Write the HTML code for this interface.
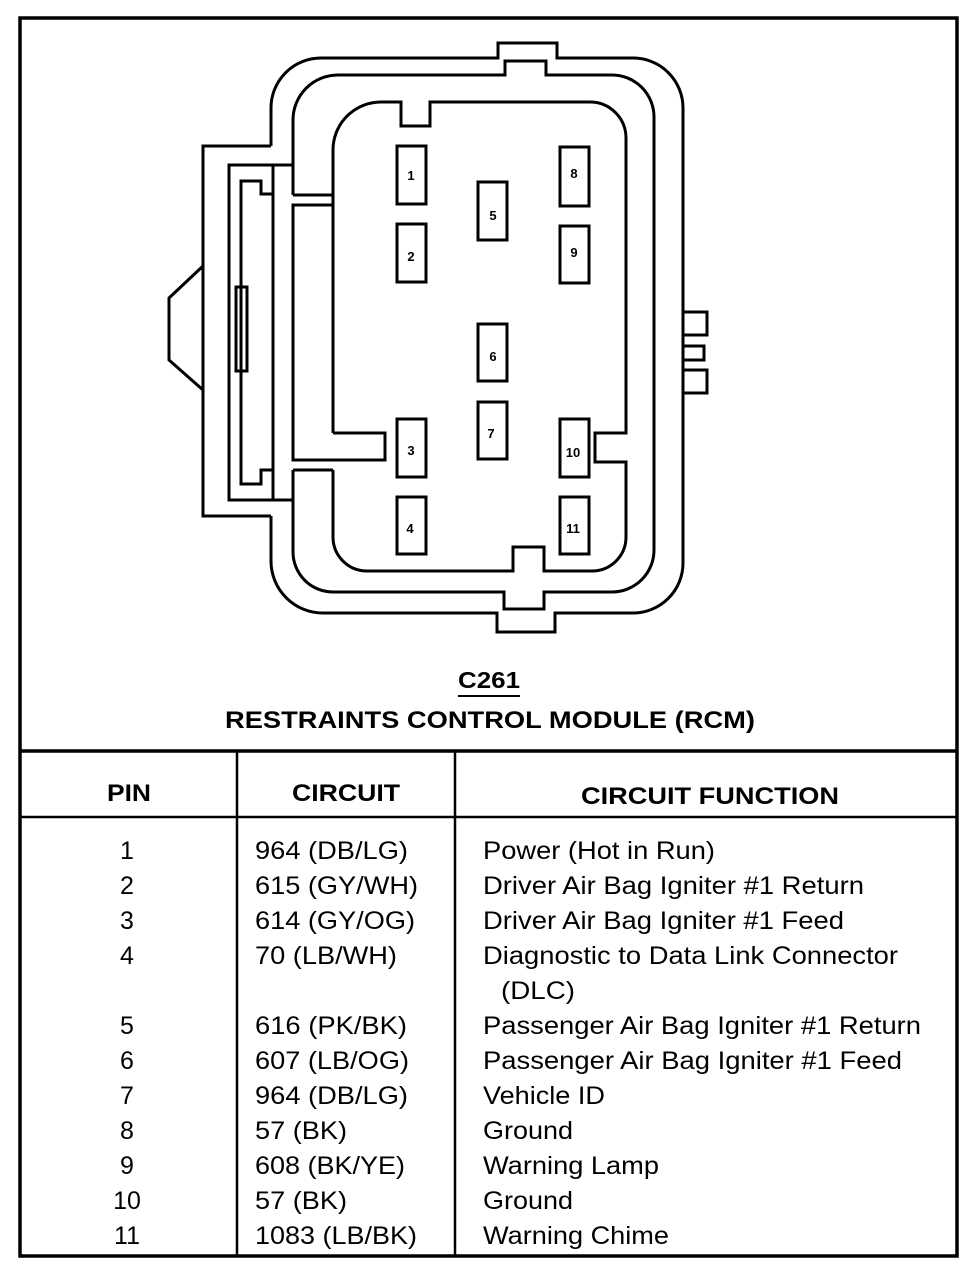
<!DOCTYPE html>
<html><head><meta charset="utf-8"><style>
html,body{margin:0;padding:0;background:#fff;}
svg{display:block;}
text{font-family:"Liberation Sans",Arial,sans-serif;fill:#000;}
</style></head><body>
<svg width="976" height="1280" viewBox="0 0 976 1280" xmlns="http://www.w3.org/2000/svg">
<g fill="none" stroke="#000" stroke-width="3" stroke-linejoin="miter">
<rect x="20" y="18" width="937" height="1238" stroke-width="3.5"/>
<line x1="20" y1="751" x2="957" y2="751" stroke-width="3.5"/>
<line x1="20" y1="817" x2="957" y2="817" stroke-width="2.5"/>
<line x1="237" y1="751" x2="237" y2="1256" stroke-width="2.5"/>
<line x1="455" y1="751" x2="455" y2="1256" stroke-width="2.5"/>

<path d="M271,146 L271,108 A50,50 0 0 1 321,58 L498,58 L498,43 L557,43 L557,58 L633,58 A50,50 0 0 1 683,108 L683,563 A50,50 0 0 1 633,613 L555,613 L555,632 L497,632 L497,613 L323,613 A52,52 0 0 1 271,561 L271,516"/>
<path d="M293,195 L293,120 A45,45 0 0 1 338,75 L505,75 L505,61 L546,61 L546,75 L612,75 A42,42 0 0 1 654,117 L654,550 A42,42 0 0 1 612,592 L544,592 L544,609 L504,609 L504,592 L333,592 A40,40 0 0 1 293,552 L293,470"/>
<path d="M333,433 L333,150 A48,48 0 0 1 381,102 L401,102 L401,126 L430,126 L430,102 L590,102 A36,36 0 0 1 626,138 L626,433 L595,433 L595,462 L626,462 L626,537 A34,34 0 0 1 592,571 L544,571 L544,547 L513,547 L513,571 L367,571 A34,34 0 0 1 333,537 L333,470"/>
<path d="M333,433 L385,433 L385,460 L293,460 L293,205 L333,205"/>
<line x1="293" y1="195" x2="333" y2="195"/>
<line x1="293" y1="470" x2="333" y2="470"/>
<path d="M271,146 L203,146 L203,516 L271,516"/>
<path d="M293,165 L229,165 L229,500 L293,500"/>
<line x1="273" y1="165" x2="273" y2="500"/>
<path d="M273,194 L261,194 L261,181 L241,181 L241,484 L261,484 L261,470 L273,470"/>
<rect x="236" y="287" width="11" height="84"/>
<path d="M203,266 L169,298 L169,360 L203,390"/>
<path d="M683,312 L707,312 L707,335 L683,335"/>
<path d="M683,346 L704,346 L704,360 L683,360"/>
<path d="M683,370 L707,370 L707,393 L683,393"/>
<rect x="397" y="146" width="29" height="58"/>
<rect x="397" y="224" width="29" height="58"/>
<rect x="397" y="419" width="29" height="58"/>
<rect x="397" y="497" width="29" height="57"/>
<rect x="478" y="182" width="29" height="58"/>
<rect x="478" y="324" width="29" height="57"/>
<rect x="478" y="402" width="29" height="57"/>
<rect x="560" y="147" width="29" height="59"/>
<rect x="560" y="226" width="29" height="57"/>
<rect x="560" y="419" width="29" height="58"/>
<rect x="560" y="497" width="29" height="57"/>
<line x1="458" y1="696" x2="520" y2="696" stroke-width="2"/>
</g>
<g font-size="13" font-weight="bold" text-anchor="middle">
<text x="411" y="180">1</text>
<text x="411" y="261">2</text>
<text x="411" y="455">3</text>
<text x="410" y="533">4</text>
<text x="493" y="220">5</text>
<text x="493" y="361">6</text>
<text x="491" y="438">7</text>
<text x="574" y="178">8</text>
<text x="574" y="257">9</text>
<text x="573" y="457">10</text>
<text x="573" y="533">11</text>
</g>
<text x="458" y="688" font-size="23" font-weight="bold" textLength="62" lengthAdjust="spacingAndGlyphs">C261</text>
<text x="225" y="728" font-size="24" font-weight="bold" textLength="530" lengthAdjust="spacingAndGlyphs">RESTRAINTS CONTROL MODULE (RCM)</text>
<g font-size="24" font-weight="bold">
<text x="107" y="801" textLength="44" lengthAdjust="spacingAndGlyphs">PIN</text>
<text x="292" y="801" textLength="108" lengthAdjust="spacingAndGlyphs">CIRCUIT</text>
<text x="581" y="804" textLength="258" lengthAdjust="spacingAndGlyphs">CIRCUIT FUNCTION</text>
</g>
<g font-size="25">
<g text-anchor="middle">
<text x="127" y="859">1</text><text x="127" y="894">2</text><text x="127" y="929">3</text><text x="127" y="964">4</text>
<text x="127" y="1034">5</text><text x="127" y="1069">6</text><text x="127" y="1104">7</text><text x="127" y="1139">8</text>
<text x="127" y="1174">9</text><text x="127" y="1209">10</text><text x="127" y="1244">11</text>
</g>
<g lengthAdjust="spacingAndGlyphs">
<text x="255" y="859" textLength="153" lengthAdjust="spacingAndGlyphs">964 (DB/LG)</text>
<text x="255" y="894" textLength="163" lengthAdjust="spacingAndGlyphs">615 (GY/WH)</text>
<text x="255" y="929" textLength="160" lengthAdjust="spacingAndGlyphs">614 (GY/OG)</text>
<text x="255" y="964" textLength="142" lengthAdjust="spacingAndGlyphs">70 (LB/WH)</text>
<text x="255" y="1034" textLength="152" lengthAdjust="spacingAndGlyphs">616 (PK/BK)</text>
<text x="255" y="1069" textLength="154" lengthAdjust="spacingAndGlyphs">607 (LB/OG)</text>
<text x="255" y="1104" textLength="153" lengthAdjust="spacingAndGlyphs">964 (DB/LG)</text>
<text x="255" y="1139" textLength="92" lengthAdjust="spacingAndGlyphs">57 (BK)</text>
<text x="255" y="1174" textLength="150" lengthAdjust="spacingAndGlyphs">608 (BK/YE)</text>
<text x="255" y="1209" textLength="92" lengthAdjust="spacingAndGlyphs">57 (BK)</text>
<text x="255" y="1244" textLength="162" lengthAdjust="spacingAndGlyphs">1083 (LB/BK)</text>
<text x="483" y="859" textLength="232" lengthAdjust="spacingAndGlyphs">Power (Hot in Run)</text>
<text x="483" y="894" textLength="381" lengthAdjust="spacingAndGlyphs">Driver Air Bag Igniter #1 Return</text>
<text x="483" y="929" textLength="361" lengthAdjust="spacingAndGlyphs">Driver Air Bag Igniter #1 Feed</text>
<text x="483" y="964" textLength="415" lengthAdjust="spacingAndGlyphs">Diagnostic to Data Link Connector</text>
<text x="501" y="999" textLength="74" lengthAdjust="spacingAndGlyphs">(DLC)</text>
<text x="483" y="1034" textLength="438" lengthAdjust="spacingAndGlyphs">Passenger Air Bag Igniter #1 Return</text>
<text x="483" y="1069" textLength="419" lengthAdjust="spacingAndGlyphs">Passenger Air Bag Igniter #1 Feed</text>
<text x="483" y="1104" textLength="122" lengthAdjust="spacingAndGlyphs">Vehicle ID</text>
<text x="483" y="1139" textLength="90" lengthAdjust="spacingAndGlyphs">Ground</text>
<text x="483" y="1174" textLength="176" lengthAdjust="spacingAndGlyphs">Warning Lamp</text>
<text x="483" y="1209" textLength="90" lengthAdjust="spacingAndGlyphs">Ground</text>
<text x="483" y="1244" textLength="186" lengthAdjust="spacingAndGlyphs">Warning Chime</text>
</g>
</g>
</svg>
</body></html>
